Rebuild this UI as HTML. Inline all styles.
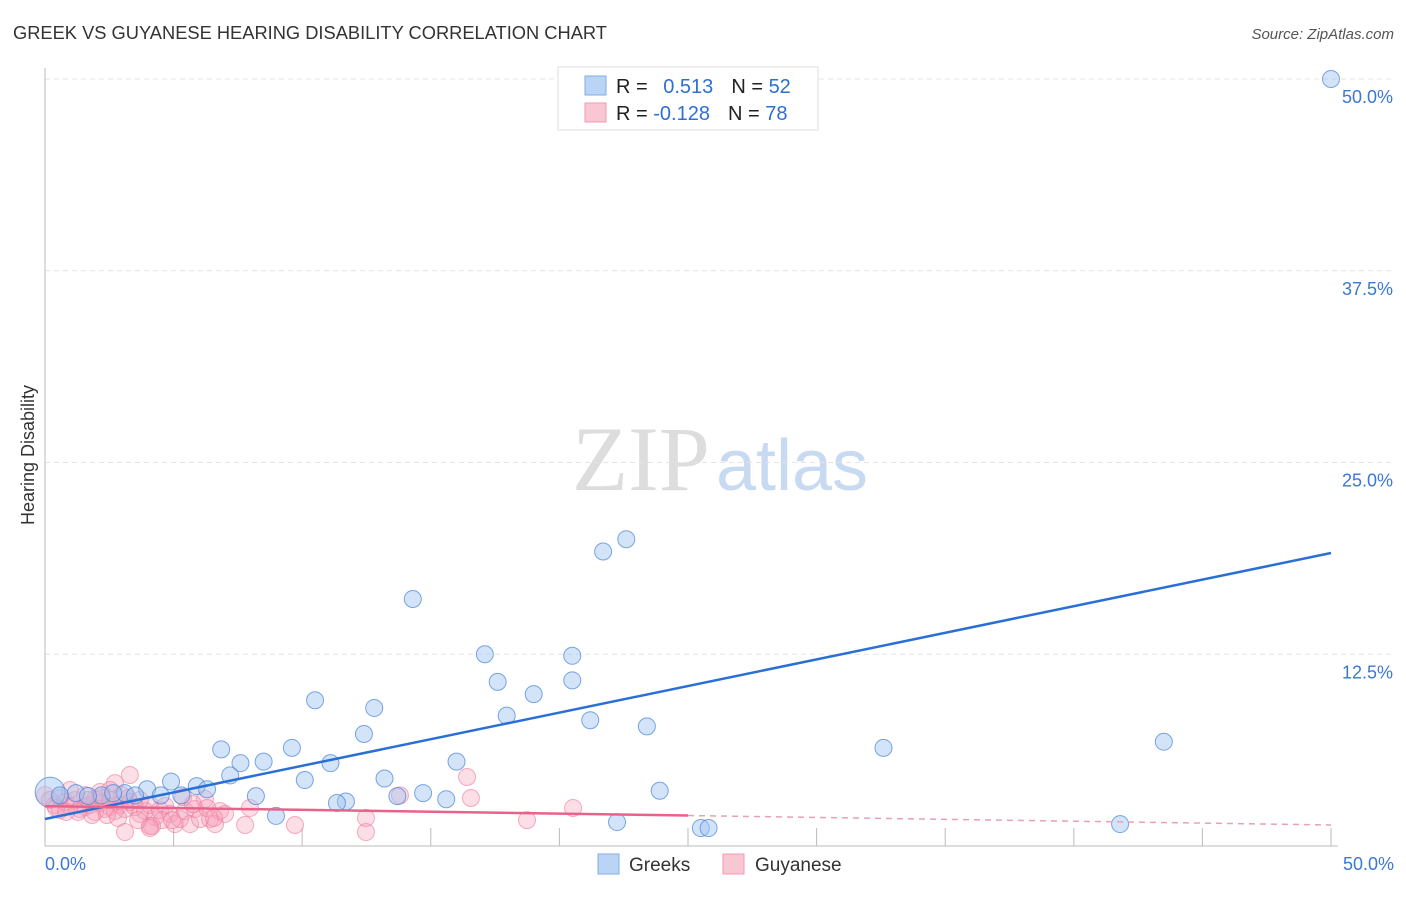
<!DOCTYPE html>
<html><head><meta charset="utf-8"><style>
body{margin:0;background:#fff;font-family:"Liberation Sans",sans-serif}
svg text{font-family:"Liberation Sans",sans-serif}
</style></head><body>
<svg id="chart" width="1406" height="892" xmlns="http://www.w3.org/2000/svg">
<text x="13" y="39" font-size="18.3" fill="#333">GREEK VS GUYANESE HEARING DISABILITY CORRELATION CHART</text>
<text x="1394" y="39" font-size="15" fill="#555" text-anchor="end" font-style="italic">Source: ZipAtlas.com</text>
<text x="720" y="490" font-size="92" text-anchor="middle"><tspan font-family="Liberation Serif" fill="#ddd">ZIP</tspan><tspan fill="#c8daf2" font-size="72" dx="6">atlas</tspan></text>
<text transform="translate(34,455) rotate(-90)" font-size="18" fill="#333" text-anchor="middle">Hearing Disability</text>
<g id="grid"></g><g id="axes"></g><g id="marks"></g>
<g>
<rect x="558" y="67" width="260" height="63" fill="#fff" stroke="#ddd"/>
<rect x="585" y="76" width="21" height="19" fill="#b9d4f5" stroke="#7eaee8"/>
<rect x="585" y="103" width="21" height="19" fill="#f9c6d4" stroke="#f29ab3"/>
<text x="616" y="93" font-size="20" fill="#222">R = <tspan fill="#2e6fd3" dx="10">0.513</tspan><tspan dx="18" fill="#222">N = </tspan><tspan fill="#2e6fd3">52</tspan></text>
<text x="616" y="120" font-size="20" fill="#222">R = <tspan fill="#2e6fd3">-0.128</tspan><tspan dx="18" fill="#222">N = </tspan><tspan fill="#2e6fd3">78</tspan></text>
</g>
<g>
<rect x="598" y="854" width="21" height="20" fill="#b9d4f5" stroke="#7eaee8"/>
<text x="629" y="871" font-size="19" fill="#333">Greeks</text>
<rect x="723" y="854" width="21" height="20" fill="#f9c6d4" stroke="#f29ab3"/>
<text x="755" y="871" font-size="19" fill="#333">Guyanese</text>
</g>
</svg>
<script>
const yTicks=[12.5,25,37.5,50];
const yTickLabels=["12.5%","25.0%","37.5%","50.0%"];
const xTickLabels=["0.0%","50.0%"];
const greekX=[50,22.6,21.7,14.3,17.1,20.5,17.6,20.5,19,10.5,12.8,17.95,21.2,23.4,12.4,6.85,9.6,32.6,43.5,8.5,7.6,16,11.1,7.2,10.1,13.2,4.9,5.9,3.97,23.9,14.7,6.3,0.2,1.2,2.2,3.1,4.5,5.3,8.2,13.7,15.6,11.7,11.35,8.98,22.24,25.5,25.8,41.8,3.5,2.65,1.67,0.58];
const greekY=[50,20,19.2,16.1,12.5,12.4,10.7,10.8,9.9,9.5,9,8.5,8.2,7.8,7.3,6.3,6.4,6.4,6.8,5.5,5.4,5.5,5.4,4.6,4.3,4.4,4.2,3.9,3.7,3.6,3.45,3.7,3.5,3.45,3.3,3.45,3.3,3.3,3.25,3.25,3.05,2.9,2.8,1.96,1.56,1.17,1.17,1.43,3.3,3.45,3.26,3.3];
const guyX=[2.72,3.3,2.53,2.99,0,0.19,0.39,0.58,0.78,0.97,1.17,1.36,1.56,1.75,1.94,2.14,2.33,2.53,2.72,2.92,3.11,3.3,3.5,3.69,3.89,4.08,4.28,4.47,4.67,4.86,5.05,5.25,5.44,5.64,5.83,6.03,6.22,6.42,6.61,6.8,7,7.78,7.97,3.11,4.08,4.55,0.58,0.97,1.56,1.94,2.14,3.69,4.16,5.37,5.75,6.3,6.57,4.08,1.83,1.28,0.43,0.82,2.41,2.84,4.94,3.62,9.72,12.48,12.48,13.8,16.41,16.56,18.74,20.53,1.67,2.22,3.23,2.53];
const guyY=[4.1,4.63,3.65,3.32,3.32,3,2.67,3.13,2.87,2.61,3,2.41,2.54,2.67,3.06,2.8,2.41,2.54,2.28,2.67,2.41,2.87,2.54,2.09,2.28,2.67,1.89,2.35,2.61,2.09,1.43,1.76,2.28,1.43,2.41,1.76,3.06,1.76,1.43,2.28,2.09,1.37,2.48,0.91,1.3,1.69,2.35,3.65,3.32,2.22,3.52,3.00,1.3,3.19,2.74,2.48,1.83,1.17,2.02,2.22,2.48,2.22,2.02,1.83,1.69,1.69,1.37,0.91,1.83,3.3,4.5,3.13,1.69,2.48,3.0,3.13,3.13,3.0];
const greekTrend=[1.76,19.1];
const guyTrend=[2.6,1.37];
const X=v=>45+v*25.72, Y=v=>846-v*15.34;
const NS="http://www.w3.org/2000/svg";
function mk(parent,tag,attrs){const e=document.createElementNS(NS,tag);for(const k in attrs)e.setAttribute(k,attrs[k]);document.getElementById(parent).appendChild(e);return e;}
yTicks.forEach((t,i)=>{
 const g=mk('grid','line',{x1:45,x2:1395,y1:Y(t),y2:Y(t),stroke:'#e4e4e4','stroke-dasharray':'5,4'});
 
 
 const l=mk('axes','text',{x:1393,y:Y(t)+24,'font-size':18,fill:'#3a78d4','text-anchor':'end'});
 l.textContent=yTickLabels[i];
 
 
});
let a=mk('axes','line',{x1:45,x2:45,y1:68,y2:846,stroke:'#bbb'});


a=mk('axes','line',{x1:45,x2:1338,y1:846,y2:846,stroke:'#bbb'});


for(let i=1;i<=10;i++){const t=mk('axes','line',{x1:X(i*5),x2:X(i*5),y1:828,y2:846,stroke:'#bbb'});
 
 }
[[0,'start',45],[50,'end',1394]].forEach((d,i)=>{const t=mk('axes','text',{x:d[2],y:870,'font-size':18,fill:'#3a78d4','text-anchor':d[1]});t.textContent=xTickLabels[i];
 
 });
guyX.forEach((x,i)=>{const c=mk('marks','circle',{cx:X(x),cy:Y(guyY[i]),r:8.5,fill:'rgba(246,160,186,0.35)',stroke:'rgba(238,120,155,0.6)','stroke-width':1});
 
 });
greekX.forEach((x,i)=>{const c=mk('marks','circle',{cx:X(x),cy:Y(greekY[i]),r:i==32?15:8.5,fill:'rgba(160,195,240,0.45)',stroke:'rgba(70,130,215,0.7)','stroke-width':1});
 
 });
let ln=mk('marks','line',{x1:X(0),y1:Y(greekTrend[0]),x2:X(50),y2:Y(greekTrend[1]),stroke:'#2a6fd6','stroke-width':2.5});


const gy=x=>guyTrend[0]+(guyTrend[1]-guyTrend[0])*x/50;
ln=mk('marks','line',{x1:X(0),y1:Y(gy(0)),x2:X(25),y2:Y(gy(25)),stroke:'#e8638c','stroke-width':2.5});


ln=mk('marks','line',{x1:X(25),y1:Y(gy(25)),x2:X(50),y2:Y(gy(50)),stroke:'#e8a0b6','stroke-width':1.5,'stroke-dasharray':'6,5'});


</script>
</body></html>
